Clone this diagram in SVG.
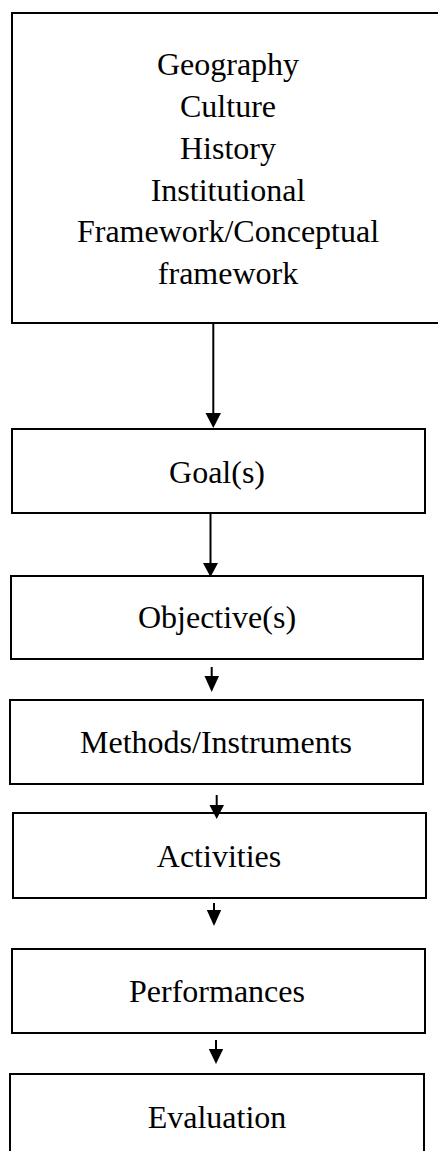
<svg xmlns="http://www.w3.org/2000/svg" width="438" height="1151" viewBox="0 0 438 1151">
<style>
.box{fill:#fff;stroke:#000;stroke-width:2}
.t{font-family:"Liberation Serif","Times New Roman",serif;font-size:32px;fill:#000;text-anchor:middle}
.c{stroke:#000;stroke-width:2;fill:none}
.h{fill:#000;stroke:none}
</style>
<rect width="438" height="1151" fill="#fff"/>
<g id="context">
<rect class="box" x="12" y="13" width="440" height="310"/>
<text class="t" x="228" y="75">Geography</text>
<text class="t" x="228" y="117">Culture</text>
<text class="t" x="228" y="159">History</text>
<text class="t" x="228" y="201">Institutional</text>
<text class="t" x="228" y="242">Framework/Conceptual</text>
<text class="t" x="228" y="284">framework</text>
</g>
<g id="goals">
<rect class="box" x="12" y="429" width="413" height="84"/>
<text class="t" x="217" y="483">Goal(s)</text>
</g>
<g id="objectives">
<rect class="box" x="11" y="576" width="412" height="83"/>
<text class="t" x="217" y="628">Objective(s)</text>
</g>
<g id="methods">
<rect class="box" x="10" y="700" width="413" height="84"/>
<text class="t" x="216" y="753">Methods/Instruments</text>
</g>
<g id="activities">
<rect class="box" x="13" y="813" width="413" height="85"/>
<text class="t" x="219" y="867">Activities</text>
</g>
<g id="performances">
<rect class="box" x="12" y="949" width="413" height="84"/>
<text class="t" x="217" y="1002">Performances</text>
</g>
<g id="evaluation">
<rect class="box" x="10" y="1074" width="414" height="90"/>
<text class="t" x="217" y="1128">Evaluation</text>
</g>
<g id="connectors">
<line class="c" x1="213.3" y1="324" x2="213.3" y2="414"/>
<polygon class="h" points="205.5,413 221,413 213.3,428"/>
<line class="c" x1="210.5" y1="513" x2="210.5" y2="564"/>
<polygon class="h" points="203,563 218,563 210.5,577"/>
<line class="c" x1="211.7" y1="667" x2="211.7" y2="677"/>
<polygon class="h" points="204.5,676 219,676 211.7,692"/>
<line class="c" x1="216.7" y1="795" x2="216.7" y2="806"/>
<polygon class="h" points="209.5,805 224,805 216.7,819"/>
<line class="c" x1="214" y1="903" x2="214" y2="911"/>
<polygon class="h" points="206.8,910 221.2,910 214,926"/>
<line class="c" x1="216" y1="1040" x2="216" y2="1050"/>
<polygon class="h" points="208.8,1049 223.2,1049 216,1064"/>
</g>
</svg>
